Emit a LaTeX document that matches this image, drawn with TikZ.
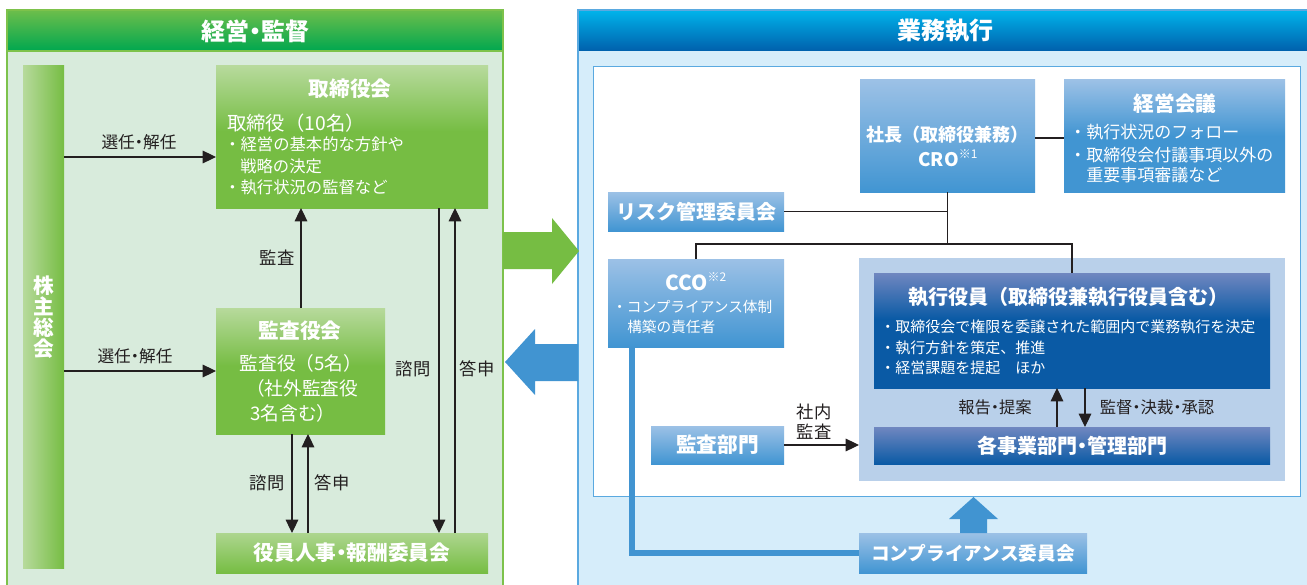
\documentclass[tikz,border=0pt]{standalone}
\usepackage{fontspec}
\setmainfont{Noto Sans CJK JP}
\usetikzlibrary{arrows.meta,fit}
\definecolor{ink}{HTML}{231F20}
\definecolor{gborder}{HTML}{7DC24B}
\definecolor{gbody}{HTML}{D8EBDC}
\definecolor{ghtop}{HTML}{6DBE4B}
\definecolor{ghbot}{HTML}{00A74F}
\definecolor{gmid}{HTML}{76BD43}
\definecolor{glight}{HTML}{B7DA9C}
\definecolor{bborder}{HTML}{5AA9E0}
\definecolor{bbody}{HTML}{D6EDFA}
\definecolor{bhtop}{HTML}{00B4EB}
\definecolor{bhbot}{HTML}{0060AC}
\definecolor{blight}{HTML}{9CC1E6}
\definecolor{bmid}{HTML}{4195D2}
\definecolor{exareac}{HTML}{B9D0EA}
\definecolor{extop}{HTML}{7087C0}
\definecolor{exdark}{HTML}{0A5AA5}
\definecolor{barrow}{HTML}{4194D1}
\pgfdeclareverticalshading{gbig}{100bp}{color(0bp)=(gmid); color(25bp)=(gmid); color(52bp)=(gmid); color(75bp)=(glight); color(100bp)=(glight)}
\pgfdeclareverticalshading{bbig}{100bp}{color(0bp)=(bmid); color(25bp)=(bmid); color(50bp)=(bmid); color(75bp)=(blight); color(100bp)=(blight)}
\pgfdeclareverticalshading{exshade}{100bp}{color(0bp)=(exdark); color(25bp)=(exdark); color(55bp)=(exdark); color(75bp)=(extop); color(100bp)=(extop)}
\newcommand\jfs[1]{\fontsize{#1pt}{#1pt}\selectfont}
\newcommand\nd{\makebox[0.5em]{・}}
\begin{document}
\begin{tikzpicture}[x=0.75pt,y=-0.75pt,
  conn/.style={draw=ink, line width=0.8pt},
  arr/.style={conn, -{Triangle[length=10pt,width=9.5pt]}},
  box/.style={inner sep=0pt, outer sep=0pt},
  wt/.style={inner sep=0pt, text=white},
  lbl/.style={inner sep=0pt, text=ink, font=\jfs{12.5}}]
\useasboundingbox (0,0) rectangle (1307,585);
\clip (0,0) rectangle (1307,585);
\fill[white] (0,0) rectangle (1307,585);

% ---------- left panel ----------
\fill[gbody] (7,51) rectangle (503,600);
\node[box, fit={(7,10)(503,51)}, top color=ghtop, bottom color=ghbot] (lhead) {};
\node[wt, font=\jfs{18}\bfseries] (lheadT) at (255,31) {経営\nd 監督};
\draw[gborder, line width=0.8pt] (7,51) -- (503,51);
\draw[gborder, line width=0.8pt] (7,10) rectangle (503,600);

\node[box, fit={(23,66)(64,568)}, left color=glight, right color=gmid] (bar) {};
\node[wt, font=\fontsize{15.5pt}{15.75pt}\selectfont\bfseries, align=center] (barT) at (bar.center) {株\\主\\総\\会};

\node[box, fit={(216,66)(488,208)}, shade, shading=gbig] (board) {};
\node[wt, font=\jfs{15.5}\bfseries] (boardT) at (350,89) {取締役会};
\node[wt, font=\jfs{14.5}, anchor=west] (boardL0) at (227,123) {取締役（10名）};
\node[wt, font=\jfs{12.25}, anchor=west] (boardL1) at (224,144) {・経営の基本的な方針や};
\node[wt, font=\jfs{12.25}, anchor=west] (boardL2) at (240,166) {戦略の決定};
\node[wt, font=\jfs{12.25}, anchor=west] (boardL3) at (224,187) {・執行状況の監督など};

\node[box, fit={(216,308)(385,434)}, shade, shading=gbig] (audit) {};
\node[wt, font=\jfs{15.5}\bfseries] (auditT) at (300,331) {監査役会};
\node[wt, font=\jfs{14}] (auditL1) at (301,363) {監査役（5名）};
\node[wt, font=\jfs{14}] (auditL2) at (302,388) {（社外監査役};
\node[wt, font=\jfs{14}] (auditL3) at (293,413) {3名含む）};

\node[box, fit={(216,533)(488,573)}, top color=glight!85!gmid, bottom color=gmid] (nom) {};
\node[wt, font=\jfs{15.5}\bfseries] (nomT) at (nom.center) {役員人事\nd 報酬委員会};

\coordinate (ya) at (0,157);
\coordinate (yb) at (0,371);
\draw[arr] (bar.east |- ya) -- (board.west |- ya);
\draw[arr] (bar.east |- yb) -- (audit.west |- yb);
\node[lbl] (selA) at (139,142) {選任\nd 解任};
\node[lbl] (selB) at (135,356) {選任\nd 解任};
\coordinate (xa) at (301,0);
\draw[arr] (audit.north -| xa) -- (board.south -| xa);
\node[lbl, font=\jfs{13}] (kansa) at (277,258) {監査};
\coordinate (xb) at (292,0);
\coordinate (xc) at (308,0);
\draw[arr] (audit.south -| xb) -- (nom.north -| xb);
\draw[arr] (nom.north -| xc) -- (audit.south -| xc);
\node[lbl, font=\jfs{13}] (shimonA) at (267,483) {諮問};
\node[lbl, font=\jfs{13}] (toshinA) at (332,483) {答申};
\coordinate (xd) at (439,0);
\coordinate (xe) at (455,0);
\draw[arr] (board.south -| xd) -- (nom.north -| xd);
\draw[arr] (nom.north -| xe) -- (board.south -| xe);
\node[lbl, font=\jfs{13}] (shimonB) at (413,369) {諮問};
\node[lbl, font=\jfs{13}] (toshinB) at (477,369) {答申};

% ---------- right panel ----------
\fill[bbody] (578,51) rectangle (1320,600);
\node[box, fit={(578,10)(1320,51)}, top color=bhtop, bottom color=bhbot] (rhead) {};
\node[wt, font=\jfs{18}\bfseries] (rheadT) at (945,31) {業務執行};
\draw[bborder, line width=0.8pt] (578,10) rectangle (1320,600);

% big arrows between panels
\fill[gmid] (503,232) -- (552,232) -- (552,218) -- (579,251) -- (552,284) -- (552,269) -- (503,269) -- cycle;
\fill[barrow] (578,344) -- (535,344) -- (535,329) -- (505,362) -- (535,395) -- (535,381) -- (578,381) -- cycle;

\draw[bborder, fill=white, line width=0.6pt] (593,66) rectangle (1300,496);

\node[box, fit={(860,80)(1035,192)}, top color=blight, bottom color=bmid] (pres) {};
\node[wt, font=\jfs{13.5}\bfseries] (presT1) at (947,135) {社長（取締役兼務）};
\node[wt, font=\jfs{14}\bfseries] (presT2) at (948,158) {CRO\raisebox{0.45em}{\mdseries\jfs{9}※1}};

\node[box, fit={(1064,80)(1285,192)}, shade, shading=bbig] (mgmt) {};
\node[wt, font=\jfs{15.5}\bfseries] (mgmtT) at (1175,104) {経営会議};
\node[wt, font=\jfs{12.75}, anchor=west] (mgmtL1) at (1069,132) {・執行状況のフォロー};
\node[wt, font=\jfs{12.75}, anchor=west] (mgmtL2) at (1069,155) {・取締役会付議事項以外の};
\node[wt, font=\jfs{12.75}, anchor=west] (mgmtL3) at (1086,175) {重要事項審議など};
\coordinate (y138) at (0,138);
\draw[conn] (pres.east |- y138) -- (mgmt.west |- y138);

\node[box, fit={(608,192)(784,231)}, top color=blight, bottom color=bmid] (risk) {};
\node[wt, font=\jfs{15}\bfseries] (riskT) at (risk.center) {リスク管理委員会};
\path (pres.south) ++(0,52) coordinate (j2);
\draw[conn] (pres.south) -- (j2);
\draw[conn] (risk.east) -- (risk.east -| j2);

\node[box, fit={(608,259)(784,347)}, top color=blight, bottom color=bmid] (cco) {};
\node[wt, font=\jfs{15.5}\bfseries] (ccoT) at (696,282) {CCO\raisebox{0.45em}{\mdseries\jfs{9}※2}};
\node[wt, font=\jfs{11}, anchor=west] (ccoL1) at (612,307) {・コンプライアンス体制};
\node[wt, font=\jfs{11}, anchor=west] (ccoL2) at (627,327) {構築の責任者};

\node[box, fit={(859,258)(1285,481)}, fill=exareac] (exarea) {};
\node[box, fit={(874,273)(1270,388)}, shade, shading=exshade] (exec) {};
\draw[conn] (cco.north) |- (j2);
\draw[conn] (exec.north) |- (j2);
\node[wt, font=\jfs{15}\bfseries] (execT) at (1068,297) {執行役員（取締役兼執行役員含む）};
\node[wt, font=\jfs{11.25}, anchor=west] (execL1) at (880,327) {・取締役会で権限を委譲された範囲内で業務執行を決定};
\node[wt, font=\jfs{11.25}, anchor=west] (execL2) at (880,348) {・執行方針を策定、推進};
\node[wt, font=\jfs{11.25}, anchor=west] (execL3) at (880,368) {・経営課題を提起　ほか};

\node[box, fit={(874,427)(1270,464)}, top color=extop, bottom color=exdark] (div) {};
\node[wt, font=\jfs{15}\bfseries] (divT) at (div.center) {各事業部門\nd 管理部門};
\coordinate (xf) at (1057,0);
\coordinate (xg) at (1085,0);
\draw[arr] (div.north -| xf) -- (exec.south -| xf);
\draw[arr] (exec.south -| xg) -- (div.north -| xg);
\node[lbl, font=\jfs{12.25}] (hokoku) at (995,407) {報告\nd 提案};
\node[lbl, font=\jfs{12.25}] (kantoku) at (1157,407) {監督\nd 決裁\nd 承認};

\node[box, fit={(651,426)(784,464)}, top color=blight, bottom color=bmid] (adept) {};
\node[wt, font=\jfs{15.5}\bfseries] (adeptT) at (adept.center) {監査部門};
\draw[arr] (adept.east) -- (adept.east -| exarea.west);
\node[lbl, font=\jfs{13}] (shanai) at (814,412) {社内};
\node[lbl, font=\jfs{13}] (shanai2) at (814,432) {監査};

\node[box, fit={(859,533)(1087,573)}, top color=blight, bottom color=bmid] (comp) {};
\node[wt, font=\jfs{14}\bfseries] (compT) at (comp.center) {コンプライアンス委員会};
\coordinate (cx) at (632,553);
\draw[barrow, line width=4.2pt] (cco.south -| cx) -- (cx) -- (comp.west |- cx);
\fill[barrow] (960,533) -- (960,519) -- (949,519) -- (973.5,497) -- (998,519) -- (987,519) -- (987,533) -- cycle;
\end{tikzpicture}
\end{document}
